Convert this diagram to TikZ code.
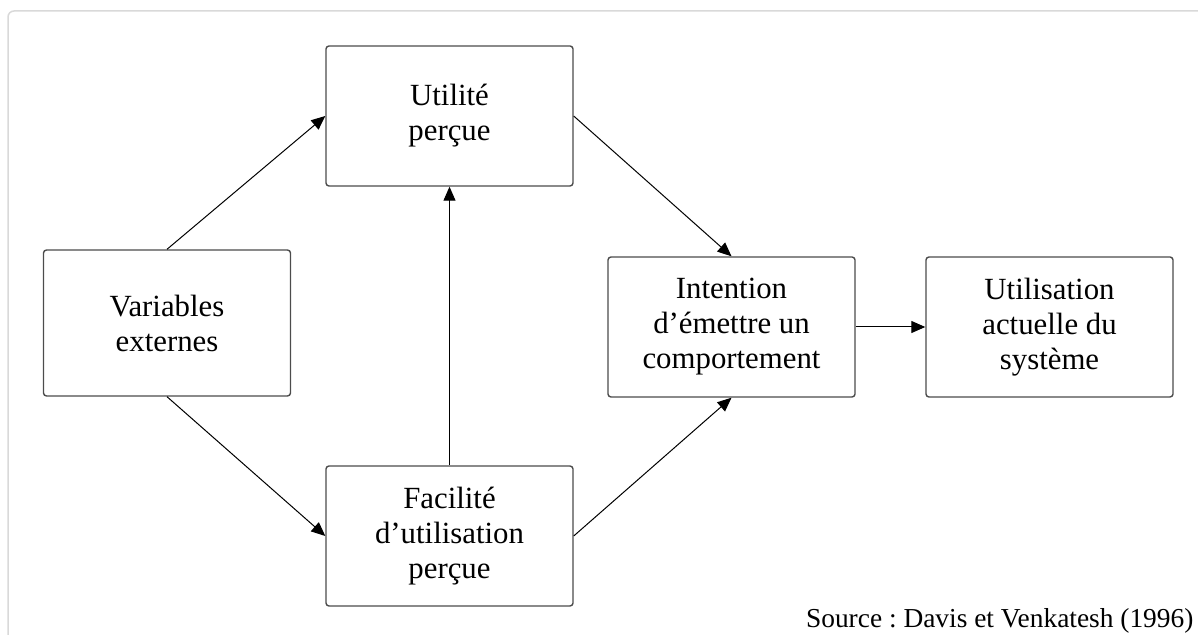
\documentclass[tikz,border=0pt]{standalone}
\usepackage{fontspec}
\setmainfont{Liberation Serif}
\usetikzlibrary{arrows.meta}
\frenchspacing

\begin{document}
\begin{tikzpicture}[>={Triangle[length=7pt, width=6pt]}, x=0.5pt, y=-0.5pt, semithick]
    \tikzset{box/.style={draw=black!70, line width=0.7pt, rounded corners=1.5pt, align=center, inner sep=2pt, minimum width=123.5pt, minimum height=70pt, font=\fontsize{15.4}{17.5}\selectfont}};
    \tikzset{link/.style={->, line width=0.5pt, black}};
    \useasboundingbox (0, 0) rectangle (1198, 635);
    \draw[black!15, line width=0.75pt, rounded corners=3pt] (1198, 11) -- (8, 11) -- (8, 635);
    \node[box, minimum height=73pt] (ext) at (167, 323) {Variables\\externes};
    \node[box] (util) at (449.5, 116) {Utilité\\perçue};
    \node[box] (facil) at (449.5, 536) {Facilité\\d’utilisation\\perçue};
    \node[box] (intent) at (731.5, 327) {Intention\\d’émettre un\\comportement};
    \node[box] (usage) at (1049.5, 327) {Utilisation\\actuelle du\\système};
    \draw[link] (ext.north) -- (util.west);
    \draw[link] (ext.south) -- (facil.west);
    \draw[link] (facil.north) -- (util.south);
    \draw[link] (util.east) -- (intent.north);
    \draw[link] (facil.east) -- (intent.south);
    \draw[link] (intent.east) -- (usage.west);
    \node[anchor=base east, inner sep=0pt, font=\fontsize{13.7}{16}\selectfont] (source) at (1194, 627) {Source : Davis et Venkatesh (1996)};
\end{tikzpicture}
\end{document}
